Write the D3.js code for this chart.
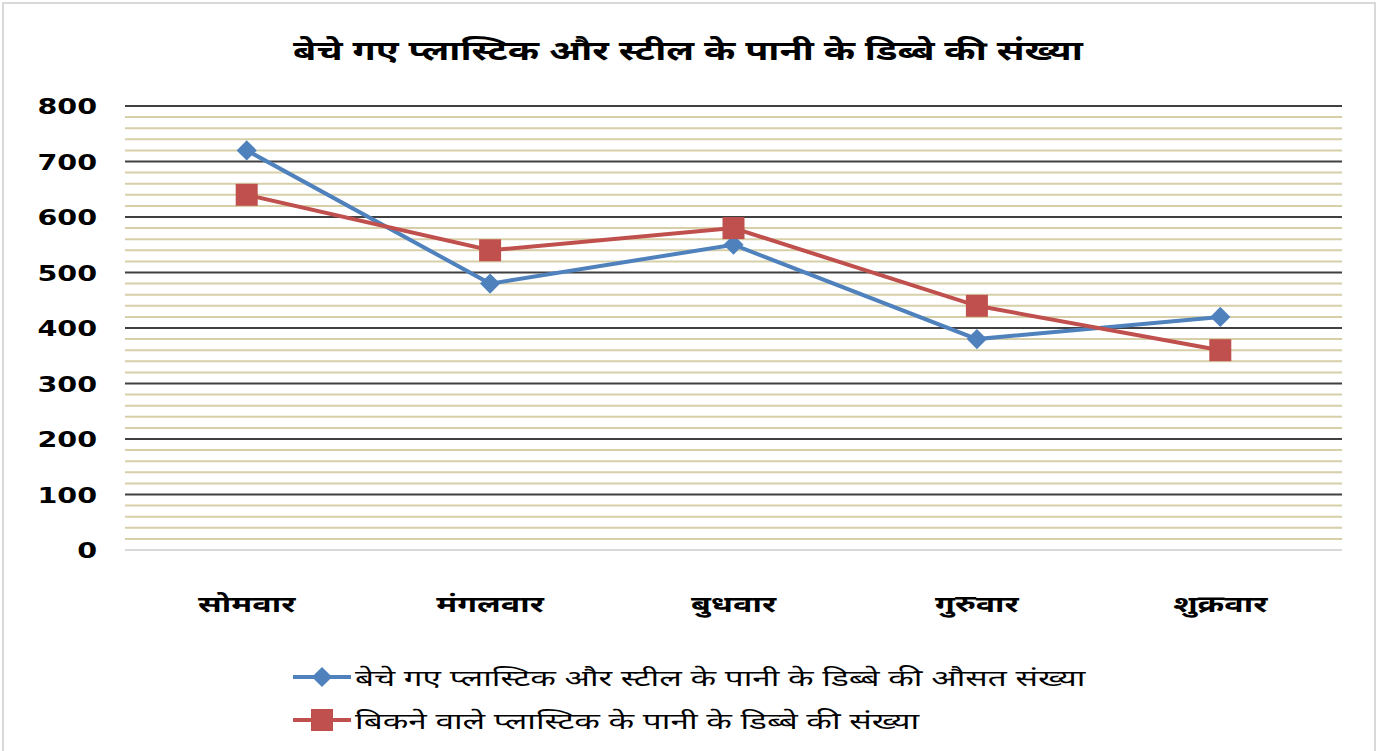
<!DOCTYPE html>
<html>
<head>
<meta charset="utf-8">
<script src="https://cdn.jsdelivr.net/npm/d3@7"></script>
<style>
  body { margin: 0; background: #fff; }
  text { font-family: "Noto Sans", "DejaVu Sans", sans-serif; }
  text.ylab { font-family: "DejaVu Sans", sans-serif; }
</style>
</head>
<body>
<div id="chart"></div>
<script>
const days = ['सोमवार', 'मंगलवार', 'बुधवार', 'गुरुवार', 'शुक्रवार'];
const avgSold = [720, 480, 550, 380, 420];
const sold = [640, 540, 580, 440, 360];
const yTicks = [0, 100, 200, 300, 400, 500, 600, 700, 800];
const seriesNames = [
  'बेचे गए प्लास्टिक और स्टील के पानी के डिब्बे की औसत संख्या',
  'बिकने वाले प्लास्टिक के पानी के डिब्बे की संख्या'
];
const title = 'बेचे गए प्लास्टिक और स्टील के पानी के डिब्बे की संख्या';

const width = 1379;
const height = 751;
const margin = { top: 106, right: 37, bottom: 201, left: 125 };
const innerW = width - margin.left - margin.right;
const innerH = height - margin.top - margin.bottom;

// the source picture is stretched sideways, so text gets a horizontal scale
const stretch = 1.4;

const svg = d3.select('#chart').append('svg')
  .attr('width', width)
  .attr('height', height);

// outer border
svg.append('rect')
  .attr('x', 3).attr('y', 3)
  .attr('width', width - 7).attr('height', height - 2)
  .attr('fill', 'none')
  .attr('stroke', '#d9d9d9')
  .attr('stroke-width', 2);

svg.append('text')
  .attr('transform', `translate(688,60) scale(${stretch},1)`)
  .attr('text-anchor', 'middle')
  .attr('font-size', 27)
  .attr('font-weight', 'bold')
  .attr('fill', '#000')
  .text(title);

const g = svg.append('g')
  .attr('transform', `translate(${margin.left},${margin.top})`);

const x = d3.scaleBand().domain(days).range([0, innerW]);
const y = d3.scaleLinear().domain([0, 800]).range([innerH, 0]);

// minor grid
g.selectAll('.minor')
  .data(d3.range(20, 800, 20).filter(v => v % 100 !== 0))
  .enter()
  .append('line')
  .attr('class', 'minor')
  .attr('x1', 0).attr('x2', innerW)
  .attr('y1', d => y(d)).attr('y2', d => y(d))
  .attr('stroke', '#d6cfa8')
  .attr('stroke-width', 2);

// major grid
g.selectAll('.major')
  .data(yTicks)
  .enter()
  .append('line')
  .attr('class', 'major')
  .attr('x1', 0).attr('x2', innerW)
  .attr('y1', d => y(d)).attr('y2', d => y(d))
  .attr('stroke', d => (d === 0 ? '#d9d9d9' : '#404040'))
  .attr('stroke-width', 2);

// y labels
g.selectAll('.ylab')
  .data(yTicks)
  .enter()
  .append('text')
  .attr('class', 'ylab')
  .attr('transform', d => `translate(-28,${y(d) + 8}) scale(1.36,1)`)
  .attr('text-anchor', 'end')
  .attr('font-size', 21)
  .attr('font-weight', 'bold')
  .text(d => d);

// x labels
g.selectAll('.xlab')
  .data(days)
  .enter()
  .append('text')
  .attr('class', 'xlab')
  .attr('transform', d => `translate(${x(d) + x.bandwidth() / 2},${innerH + 62}) scale(${stretch},1)`)
  .attr('text-anchor', 'middle')
  .attr('font-size', 23)
  .attr('font-weight', 'bold')
  .text(d => d);

const line = d3.line()
  .x((d, i) => x(days[i]) + x.bandwidth() / 2)
  .y(d => y(d));

const blue = '#4f81bd';
const red = '#c0504d';

g.append('path')
  .datum(avgSold)
  .attr('d', line)
  .attr('fill', 'none')
  .attr('stroke', blue)
  .attr('stroke-width', 4);

g.append('path')
  .datum(sold)
  .attr('d', line)
  .attr('fill', 'none')
  .attr('stroke', red)
  .attr('stroke-width', 4);

const diamond = d3.symbol().type(d3.symbolDiamond2).size(260);

g.selectAll('.dmark')
  .data(avgSold)
  .enter()
  .append('path')
  .attr('class', 'dmark')
  .attr('d', diamond)
  .attr('transform', (d, i) => `translate(${x(days[i]) + x.bandwidth() / 2},${y(d)})`)
  .attr('fill', blue);

g.selectAll('.smark')
  .data(sold)
  .enter()
  .append('rect')
  .attr('class', 'smark')
  .attr('x', (d, i) => x(days[i]) + x.bandwidth() / 2 - 11)
  .attr('y', d => y(d) - 11)
  .attr('width', 22)
  .attr('height', 22)
  .attr('fill', red);

// legend
const legend = svg.append('g')
  .attr('transform', 'translate(293,677)');

const items = legend.selectAll('.item')
  .data(seriesNames)
  .enter()
  .append('g')
  .attr('class', 'item')
  .attr('transform', (d, i) => `translate(0,${i * 43})`);

items.append('line')
  .attr('x1', 0).attr('x2', 58)
  .attr('y1', 0).attr('y2', 0)
  .attr('stroke', (d, i) => (i === 0 ? blue : red))
  .attr('stroke-width', 4);

items.each(function (d, i) {
  const it = d3.select(this);
  if (i === 0) {
    it.append('path')
      .attr('d', diamond)
      .attr('transform', 'translate(29,0)')
      .attr('fill', blue);
  } else {
    it.append('rect')
      .attr('x', 18).attr('y', -11)
      .attr('width', 22).attr('height', 22)
      .attr('fill', red);
  }
});

items.append('text')
  .attr('transform', `translate(62,9) scale(1.45,1)`)
  .attr('font-size', 23)
  .text(d => d);
</script>
</body>
</html>
